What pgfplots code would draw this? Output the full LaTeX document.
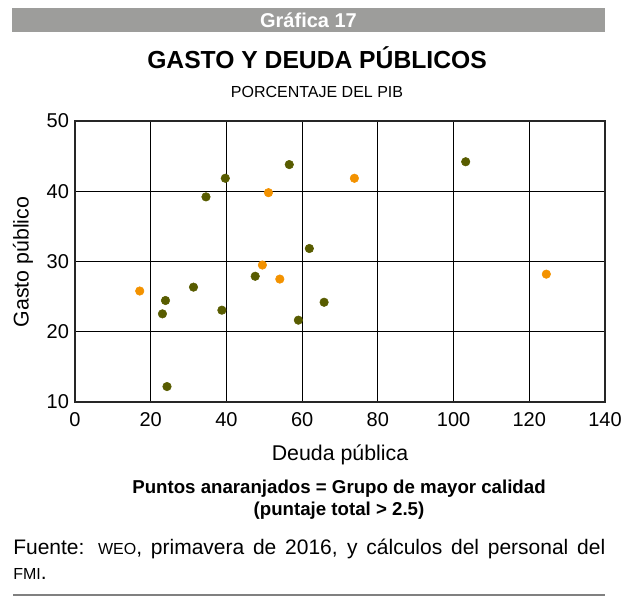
\documentclass[border=0pt]{standalone}
\usepackage{fontspec}
\setmainfont{Liberation Sans}
\usepackage{pgfplots}
\pgfplotsset{compat=1.18}
\definecolor{olivept}{RGB}{88,92,0}
\definecolor{orangept}{RGB}{243,146,0}
\definecolor{bandgray}{RGB}{157,157,155}
\newcommand{\fsc}[1]{{\fontsize{12}{12}\selectfont #1}}
\begin{document}
\begin{tikzpicture}
% frame in image pixels: 1px = 0.75pt, y downwards
\begin{scope}[x=0.75pt,y=-0.75pt]
\useasboundingbox (0,0) rectangle (627,596);
\fill[bandgray] (12,8) rectangle (605,32);
\node[text=white,font=\bfseries\fontsize{15}{17}\selectfont] at (308.5,20.5) {Gráfica 17};
\node[font=\bfseries\fontsize{18.5}{21}\selectfont] at (317,58) {GASTO Y DEUDA PÚBLICOS};
\node[font=\fontsize{12}{14}\selectfont] at (317,92) {PORCENTAJE DEL PIB};
\node[font=\fontsize{16}{18}\selectfont] at (340,455) {Deuda pública};
\node[font=\fontsize{16}{18}\selectfont,rotate=90] at (23,262) {Gasto público};
\node[font=\bfseries\fontsize{14}{16.5}\selectfont,align=center] at (339,500)
  {Puntos anaranjados = Grupo de mayor calidad\\(puntaje total > 2.5)};
\node[anchor=base west,inner sep=0pt,font=\fontsize{15.75}{18}\selectfont] at (13,554)
  {\makebox[444pt][s]{Fuente: \fsc{WEO}, primavera de 2016, y cálculos del personal del}};
\node[anchor=base west,inner sep=0pt,font=\fontsize{15.75}{18}\selectfont] at (13,579)
  {\fsc{FMI}.};
\draw[black!50,line width=0.9pt] (13,595) -- (605,595);
\end{scope}
\begin{axis}[
  at={(56.25pt,-301.5pt)}, anchor=south west,
  scale only axis, width=397.5pt, height=210.75pt,
  xmin=0, xmax=140, ymin=10, ymax=50,
  xtick={0,20,...,140}, ytick={10,20,...,50},
  major tick length=0pt,
  grid=major,
  major grid style={black, line width=0.8pt},
  axis line style={black!85, line width=0.9pt},
  tick label style={font=\fontsize{15}{16}\selectfont},
  /pgf/number format/assume math mode=true,
  xticklabel style={yshift=-4pt},
  yticklabel style={xshift=-1pt},
]
% resto de paises
\addplot[only marks, mark=*, mark size=3.2pt, mark options={fill=olivept, draw=olivept}]
  coordinates {(56.6,43.8) (39.7,41.85) (34.6,39.2) (61.9,31.85) (47.6,27.9)
  (31.3,26.35) (23.9,24.45) (23.1,22.55) (38.8,23.07) (65.8,24.2)
  (59.0,21.65) (24.3,12.2) (103.2,44.2)};
% grupo de mayor calidad
\addplot[only marks, mark=*, mark size=3.2pt, mark options={fill=orangept, draw=orangept}]
  coordinates {(17.1,25.8) (51.1,39.8) (49.5,29.5) (54.1,27.5) (73.8,41.85) (124.5,28.2)};
\end{axis}
\end{tikzpicture}
\end{document}
